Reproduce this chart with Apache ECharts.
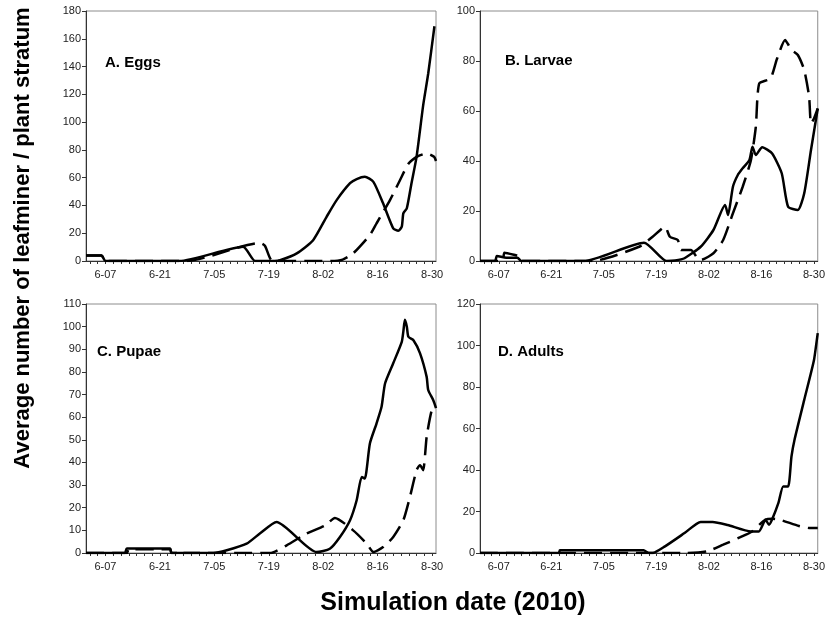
<!DOCTYPE html>
<html>
<head>
<meta charset="utf-8">
<script src="https://cdn.jsdelivr.net/npm/echarts@6/dist/echarts.min.js"></script>
<style>
  html, body { margin: 0; padding: 0; background: #fff; }
  #chart { width: 828px; height: 632px; }
</style>
</head>
<body>
<div id="chart"></div>
<script>
// day index 0 = 6-02 ... 90 = 8-31
var dayLabels = [];
(function () {
    var months = [[6, 2, 30], [7, 1, 31], [8, 1, 31]];
    months.forEach(function (m) {
        for (var d = m[1]; d <= m[2]; d++) {
            dayLabels.push(m[0] + '-' + (d < 10 ? '0' + d : d));
        }
    });
})();

// [day index, value]; solid = stratum 1, dashed = stratum 2
var eggsSolid = [[0,4],[4,4],[5,0],[24,0],[40.4,10.3],[43.5,0],[48.5,0],[49.9,0.5],[54.2,5.5],[58.4,15],[61.9,32],[64.5,44],[67.9,56],[69.6,59],[71.7,60.7],[73.9,57],[76.4,41.5],[79,23.5],[80.3,21.8],[81.2,24.7],[81.6,34.3],[82.5,38],[83.7,56],[85,75],[86.7,112],[88,135],[89.6,169]];
var eggsDashed = [[0,4],[4,4],[5,0],[26,0],[44.7,13],[46,11],[48,0],[63,0],[66,1],[68.7,5.5],[73,18.7],[74.7,27],[78.2,44],[80.7,58],[82.9,70],[85,75],[87.6,77.5],[89.5,75],[90,72]];

var larvaeSolid = [[0,0],[4,0],[4.5,2],[7,1.3],[10,1.3],[11,0],[27.7,0],[43.7,7.3],[49.7,0],[52,0.2],[54.5,1.1],[58.8,5.7],[62.2,12.4],[65.3,22.4],[66.1,18.4],[67.4,29.7],[68.7,34.4],[70,37.1],[71.8,40.4],[72.6,45.7],[73.5,42.4],[75.2,45.5],[77.8,43.1],[80.4,35.1],[82.1,21.7],[84.7,20.4],[86.4,27.1],[88.2,44.4],[90,61]];
var larvaeDashed = [[0,0],[6,0],[6.5,3.3],[9,2.5],[10,2],[11,0],[30,0],[42.4,5.7],[46,9.7],[49.3,13.7],[50.6,9.7],[52.7,8.4],[53.6,4.4],[56.2,4.4],[58,1],[58.8,0.4],[62.2,3.1],[64.8,8.4],[67.4,19.1],[70,29.7],[72.2,40.4],[73.5,53.7],[74.4,71],[77.4,73],[79.1,80.7],[81.3,88.4],[82.1,86.7],[83,84.4],[84.7,82.4],[86.4,76.4],[87.7,65.7],[88.2,55],[89,57],[90,61]];

var pupaeSolid = [[0,0],[10,0],[10.5,2],[21.6,2],[22,0],[32.7,0],[36.2,1.2],[41.3,4.1],[44.7,8.6],[49,13.7],[59.3,0.4],[62.7,1.9],[65.3,7.1],[67.9,14.5],[69.6,23.3],[70.9,33.6],[71.7,32.9],[73,48.4],[74.7,57.2],[76,64.6],[76.9,74.9],[79,83.8],[81.2,93.3],[81.6,97.8],[82,103],[82.5,100],[82.9,95.5],[84.2,94],[85.9,88.2],[87.6,77.8],[88,72],[89.3,67.5],[90,64]];
var pupaeDashed = [[0,0],[10.5,0],[11,1.7],[21.6,1.7],[22,0],[24,0],[24.5,1.2],[25,0],[47.3,0],[51.6,3.4],[56.7,8.6],[61.5,12.2],[64,15.5],[68.7,10],[72.2,4.1],[73.9,0.4],[76.4,2.6],[79,7.1],[81.6,14.5],[83.3,24.8],[85,36.6],[85.9,38.8],[86.7,36.6],[87.6,51.3],[88.9,63],[90,65]];

var adultsSolid = [[0,0],[21,0],[21.3,1.3],[43.6,1.3],[45,0],[46,0],[49.3,3.2],[54.5,9.6],[58.8,15],[62,15],[66,13.5],[72.2,10.4],[74.3,10.4],[76.1,16],[77,13.6],[77.8,16],[79.5,24],[80.8,32],[82.1,32],[83,46.5],[83.8,54.5],[86.4,73.8],[89,93],[90,106]];
var adultsDashed = [[0,0],[55,0],[60.5,0.8],[64.8,4],[69.2,7.5],[72.5,10.4],[76,16],[78,16.5],[80,16],[85,13],[88,12],[90,12]];

var panelTitles = ['A. Eggs', 'B. Larvae', 'C. Pupae', 'D. Adults'];
var yMax = [180, 100, 110, 120];
var yStep = [20, 20, 10, 20];

var chart = echarts.init(document.getElementById('chart'));

var grids = [
    { left: 86, top: 11, width: 350, height: 250 },
    { left: 480, top: 11, width: 347, height: 250 },
    { left: 86, top: 304, width: 350, height: 249 },
    { left: 480, top: 304, width: 347, height: 249 }
];
var titlePos = [[105, 55], [505, 53], [97, 344], [498, 344]];
var seriesData = [
    [eggsSolid, eggsDashed],
    [larvaeSolid, larvaeDashed],
    [pupaeSolid, pupaeDashed],
    [adultsSolid, adultsDashed]
];

var xAxes = [], yAxes = [], series = [], titles = [];
grids.forEach(function (g, k) {
    g.show = true;
    g.borderColor = '#8c8c8c';
    g.borderWidth = 1;
    g.backgroundColor = '#fff';
    // hidden value axis carries the data
    xAxes.push({ type: 'value', gridIndex: k, min: 0, max: 90, show: false });
    // visible date axis
    xAxes.push({
        type: 'category',
        gridIndex: k,
        position: 'bottom',
        boundaryGap: false,
        data: dayLabels,
        axisLine: { lineStyle: { color: '#333', width: 1 } },
        axisTick: {
            length: 3,
            interval: function (idx) { return idx % 2 === 1; },
            lineStyle: { color: '#333' }
        },
        axisLabel: {
            interval: function (idx) { return (idx - 5) % 14 === 0; },
            color: '#222',
            fontSize: 11,
            fontFamily: 'Liberation Sans, Arial, sans-serif',
            margin: 8
        },
        splitLine: { show: false }
    });
    yAxes.push({
        type: 'value',
        gridIndex: k,
        min: 0,
        max: yMax[k],
        interval: yStep[k],
        axisLine: { show: true, lineStyle: { color: '#333', width: 1 } },
        axisTick: { show: true, length: 4, lineStyle: { color: '#333' } },
        axisLabel: {
            color: '#222',
            fontSize: 11,
            fontFamily: 'Liberation Sans, Arial, sans-serif',
            margin: 5
        },
        splitLine: { show: false }
    });
    series.push({
        type: 'line',
        xAxisIndex: k * 2,
        yAxisIndex: k,
        data: seriesData[k][0],
        symbol: 'none',
        smooth: 0.2,
        lineStyle: { color: '#000', width: 2.5 },
        z: 3
    });
    series.push({
        type: 'line',
        xAxisIndex: k * 2,
        yAxisIndex: k,
        data: seriesData[k][1],
        symbol: 'none',
        smooth: 0.2,
        lineStyle: { color: '#000', width: 2.5, type: [18, 8] },
        z: 3
    });
    titles.push({
        text: panelTitles[k],
        left: titlePos[k][0],
        top: titlePos[k][1],
        padding: 0,
        textStyle: {
            fontSize: 15,
            fontWeight: 'bold',
            color: '#000',
            fontFamily: 'Liberation Sans, Arial, sans-serif'
        }
    });
});

var option = {
    backgroundColor: '#fff',
    animation: false,
    title: titles,
    grid: grids,
    xAxis: xAxes,
    yAxis: yAxes,
    series: series,
    graphic: [
        {
            type: 'text',
            x: 23,
            y: 238,
            rotation: Math.PI / 2,
            style: {
                text: 'Average number of leafminer / plant stratum',
                fontSize: 22,
                fontWeight: 'bold',
                fontFamily: 'Liberation Sans, Arial, sans-serif',
                fill: '#000',
                align: 'center',
                verticalAlign: 'middle'
            }
        },
        {
            type: 'text',
            x: 453,
            y: 603,
            style: {
                text: 'Simulation date (2010)',
                fontSize: 25,
                fontWeight: 'bold',
                fontFamily: 'Liberation Sans, Arial, sans-serif',
                fill: '#000',
                align: 'center',
                verticalAlign: 'middle'
            }
        }
    ]
};
chart.setOption(option);
</script>
</body>
</html>
